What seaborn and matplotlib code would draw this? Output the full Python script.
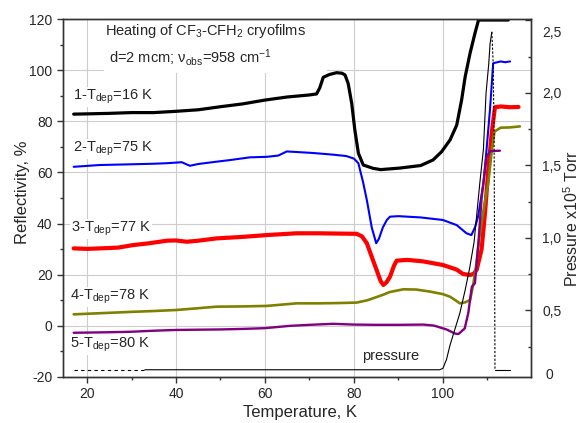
import matplotlib
matplotlib.use("Agg")
import matplotlib.pyplot as plt
import matplotlib.patches as mpatches
import seaborn as sns
from matplotlib.ticker import MultipleLocator, FixedLocator, FixedFormatter

# ---------------- data ----------------
T1 = [17, 20, 25, 30, 35, 40, 45, 50, 55, 60, 65, 70, 71.6, 72.3, 73.1, 74.5, 76.1, 77.3,
      78.0, 78.7, 79.5, 80.2, 81.0, 82.1, 84.3, 86, 90.3, 95, 97.8, 99.7, 101.6, 103.1,
      104.2, 105, 106.1, 107.2, 108, 110, 114.7]
Y1 = [82.8, 82.9, 83.1, 83.4, 83.4, 83.9, 84.5, 85.7, 86.8, 88.3, 89.5, 90.3, 90.7, 93.0,
      97.2, 98.3, 99.0, 98.8, 98.1, 94.8, 87.0, 76.6, 67.5, 62.9, 61.6, 61.1, 61.7, 62.7,
      64.9, 68.1, 72.7, 78.5, 88.3, 97.4, 106.6, 114.4, 119.6, 119.6, 119.6]

T2 = [17, 22.9, 30.4, 35, 37.9, 41.3, 43.1, 45, 49.1, 52, 56.6, 60.4, 63, 64.9, 67, 70.8,
      75, 78.3, 80, 81, 82.1, 82.9, 84, 85, 85.6, 86.5, 87.4, 88.1, 90, 95, 100, 103.1,
      105.3, 106.4, 107.2, 107.9, 109.1, 109.8, 110.6, 111.3, 112, 113, 114, 115.1]
Y2 = [62.2, 62.9, 63.2, 63.4, 63.6, 64.0, 62.6, 63.3, 64.2, 64.8, 65.9, 66.1, 66.6, 68.2,
      68.0, 67.6, 67.0, 66.4, 65.4, 63.6, 55.8, 49.2, 38.5, 32.3, 34.0, 38.5, 41.4, 42.7,
      42.9, 42.4, 41.4, 39.4, 36.2, 35.5, 38.5, 42.7, 55.7, 68.8, 85.0, 102.7, 103.0,
      103.4, 103.1, 103.4]

T3 = [17, 20, 22.9, 27, 30.4, 34, 37.9, 40, 42.4, 45, 49.1, 55, 60.4, 67.1, 72, 76, 80.6,
      81.8, 82.9, 84, 85.1, 86, 86.6, 87.3, 88.1, 89, 89.6, 92, 95.6, 100, 103.1, 104.5,
      106.1, 106.9, 107.6, 108.7, 109.5, 110.2, 111, 111.7, 113, 115, 117]
Y3 = [30.3, 30.1, 30.3, 30.6, 31.6, 32.3, 33.3, 33.4, 32.9, 33.3, 34.2, 34.8, 35.5, 36.2,
      36.2, 36.1, 36.0, 35.0, 32.3, 27.0, 21.8, 17.5, 16.0, 17.0, 19.2, 23.5, 25.5, 25.8,
      25.2, 23.8, 22.0, 20.3, 19.9, 20.3, 22.0, 30.0, 45.0, 61.0, 76.0, 85.5, 85.8, 85.5,
      85.6]

T4 = [17, 25, 30.4, 35, 40, 45, 49.1, 55, 60.4, 67.1, 72, 76, 80.6, 83, 85, 86.6, 88,
      91.1, 94, 97.1, 100, 101.6, 103, 103.8, 105, 106.1, 106.8, 107.5, 108.3, 109.2,
      110.2, 111, 111.6, 113, 115, 117.3]
Y4 = [4.5, 5.1, 5.5, 5.8, 6.2, 6.9, 7.5, 7.6, 7.8, 8.8, 8.8, 8.9, 9.1, 10.0, 11.2, 12.2,
      13.2, 14.3, 14.2, 13.4, 12.4, 11.4, 9.8, 8.8, 9.2, 10.1, 16.0, 24.0, 36.0, 46.0,
      56.0, 68.8, 76.0, 77.5, 77.6, 78.0]

T5 = [17, 25, 30, 35, 40, 45, 50, 55, 60, 65.6, 70, 75.3, 80, 85, 90, 95.6, 98, 100.8,
      102.7, 103.5, 104.9, 105.7, 106.5, 107.2, 108.0, 108.7, 109.8, 110.6, 111.5, 112.8]
Y5 = [-2.7, -2.5, -2.3, -1.9, -1.6, -1.5, -1.4, -1.2, -0.9, 0.0, 0.4, 0.8, 0.5, 0.4, 0.4,
      0.5, 0.1, -1.4, -3.0, -3.2, -1.0, 5.0, 15.3, 16.7, 33.0, 50.0, 66.0, 68.3, 68.4, 68.5]

# pressure (right axis, x10^5 Torr)
P_T = [17, 33, 99.3, 100, 100.8, 101.6, 102.7, 103.8, 105, 106, 107, 108.3, 109.1, 109.7,
       110.3, 110.6, 111.0, 111.3, 111.5, 111.6, 111.7, 115.1]
P_V = [0.09, 0.09, 0.09, 0.10, 0.16, 0.26, 0.37, 0.48, 0.64, 0.79, 0.97, 1.38, 1.61, 2.0,
       2.2, 2.34, 2.42, 2.2, 1.7, 1.0, 0.09, 0.09]

labels = [r"1-T$_{\mathrm{dep}}$=16 K", r"2-T$_{\mathrm{dep}}$=75 K",
          r"3-T$_{\mathrm{dep}}$=77 K", r"4-T$_{\mathrm{dep}}$=78 K",
          r"5-T$_{\mathrm{dep}}$=80 K"]
right_ticks = [0.5, 1.0, 1.5, 2.0, 2.5]
right_ticklabels = ["0,5", "1,0", "1,5", "2,0", ""]

# ---------------- style ----------------
sns.set_style("ticks")
plt.rcParams["font.family"] = ["Liberation Sans", "DejaVu Sans"]
plt.rcParams["mathtext.fontset"] = "custom"
plt.rcParams["mathtext.rm"] = "Liberation Sans"
plt.rcParams["mathtext.it"] = "Liberation Sans:italic"
plt.rcParams["mathtext.bf"] = "Liberation Sans:bold"
plt.rcParams["axes.unicode_minus"] = False

W, H = 583, 423
fig = plt.figure(figsize=(W / 100, H / 100), dpi=100)
L, R, TOP, BOT = 63, 531, 19, 377
ax = fig.add_axes([L / W, 1 - BOT / H, (R - L) / W, (BOT - TOP) / H])
ax2 = ax.twinx()

def fx(px):
    return px / W

def fy(py):
    return 1 - py / H

series = [(T1, Y1, "#000000", 2.3), (T2, Y2, "#0000FF", 1.5), (T3, Y3, "#FF0000", 3.0),
          (T4, Y4, "#808000", 1.9), (T5, Y5, "#800080", 1.7)]
for t, y, c, lw in series:
    sns.lineplot(x=t, y=y, ax=ax, color=c, linewidth=lw, sort=False, estimator=None)

# pressure in segments (dashed start, solid rise, dashed drop, solid tail)
def seg(lo, hi):
    idx = [i for i, t in enumerate(P_T) if lo <= t <= hi]
    return [P_T[i] for i in idx], [P_V[i] for i in idx]

for (lo, hi), ls in [((0, 33), (0, (3, 3))), ((33, 111.0), "-"),
                     ((111.0, 111.7), (0, (2, 1.5))), ((111.7, 200), "-")]:
    xs, ys = seg(lo, hi)
    sns.lineplot(x=xs, y=ys, ax=ax2, color="black", linewidth=0.8, linestyle=ls,
                 sort=False, estimator=None)

# axes limits / ticks
ax.set_xlim(14.6, 119.8)
ax.set_ylim(-20, 120)
ax2.set_ylim(0.04, 2.51)
ax.xaxis.set_major_locator(MultipleLocator(20))
ax.xaxis.set_minor_locator(MultipleLocator(10))
ax.yaxis.set_major_locator(MultipleLocator(20))
ax.yaxis.set_minor_locator(MultipleLocator(10))
ax2.yaxis.set_major_locator(FixedLocator(right_ticks))
ax2.yaxis.set_major_formatter(FixedFormatter(right_ticklabels))
ax2.yaxis.set_minor_locator(MultipleLocator(0.25))

ax.grid(True, which="major", color="#cdcdcd", linewidth=0.8)
ax.set_axisbelow(True)
ax2.grid(False)

for a in (ax, ax2):
    for sp in a.spines.values():
        sp.set_visible(True)
        sp.set_linewidth(1.0)
        sp.set_color("#333333")

ax.tick_params(axis="both", which="major", direction="out", length=4.5, width=1.0,
               labelsize=10, color="#333333", pad=3, top=False, right=False)
ax.tick_params(axis="both", which="minor", direction="out", length=2.5, width=1.0,
               color="#333333", top=False, right=False)
ax2.tick_params(axis="y", which="major", direction="in", length=4.5, width=1.0,
                labelsize=10, color="#333333", pad=8)
ax2.tick_params(axis="y", which="minor", direction="in", length=2.5, width=1.0,
                color="#333333")

# end labels of the right axis (placed inside the axis span as in the reference)
ax2.text(1 + 14 / (R - L), 0.055, "0", transform=ax2.get_yaxis_transform(),
         ha="left", va="center", fontsize=10)
ax2.text(1 + 11 / (R - L), 2.41, "2,5", transform=ax2.get_yaxis_transform(),
         ha="left", va="center", fontsize=10)

# axis labels
ax.set_xlabel("Temperature, K", fontsize=12)
ax.xaxis.set_label_coords((300 - L) / (R - L), (BOT - 412) / (BOT - TOP))
ax.xaxis.label.set_verticalalignment("center")
ax.set_ylabel("Reflectivity, %", fontsize=12)
ax.yaxis.set_label_coords((23 - L) / (R - L), (BOT - 192) / (BOT - TOP))
ax.yaxis.label.set_verticalalignment("center")
ax2.set_ylabel(r"Pressure x10$^5$ Torr", fontsize=11.5)
ax2.yaxis.set_label_coords((572 - L) / (R - L), (BOT - 219) / (BOT - TOP))
ax2.yaxis.label.set_verticalalignment("center")

# white block behind the title lines (hides grid)
rect = mpatches.Rectangle((fx(104), fy(73)), fx(327) - fx(104), fy(20) - fy(73),
                          transform=fig.transFigure, facecolor="white",
                          edgecolor="none", zorder=1.5)
ax.add_artist(rect)

fig.text(fx(105), fy(35), r"Heating of CF$_3$-CFH$_2$ cryofilms", fontsize=10.5,
         ha="left", va="baseline")
fig.text(fx(109), fy(63), r"d=2 mcm; ν$_{\mathrm{obs}}$=958 cm$^{-1}$", fontsize=10.5,
         ha="left", va="baseline")

label_pos = [(73, 100), (73, 152), (71, 232), (70, 300), (70, 348)]
box = dict(facecolor="white", edgecolor="none", pad=0.6)
for (px, py), lab in zip(label_pos, labels):
    fig.text(fx(px), fy(py), lab, fontsize=10.5, ha="left", va="baseline", bbox=box)
fig.text(fx(362), fy(360), "pressure", fontsize=10.5, ha="left", va="baseline", bbox=box)

fig.savefig("out.png", dpi=100)
